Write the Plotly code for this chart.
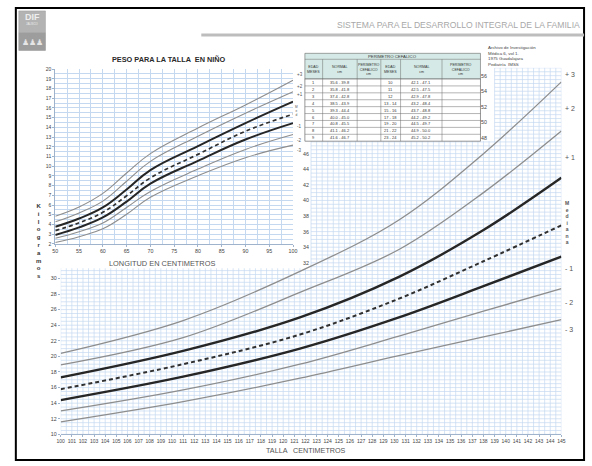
import plotly.graph_objects as go

W, H = 592, 466
def fx(x): return x / W
def fy(y): return 1 - y / H

# ---------------- data ----------------
# big chart: weight for height (100-145 cm)
talla_cm = [100, 111, 121.5, 130.4, 138, 145]
talla_p3 = [20.4, 24.6, 30.9, 37.5, 46.0, 55.2]
talla_p2 = [18.9, 22.4, 28.2, 33.7, 41.0, 48.9]
talla_p1 = [17.3, 20.7, 25.0, 30.2, 36.2, 42.9]
talla_med = [15.8, 19.0, 22.8, 27.4, 32.2, 36.8]
talla_m1 = [14.4, 17.4, 21.0, 25.0, 29.0, 32.8]
talla_m2 = [13.0, 15.7, 19.0, 22.6, 25.8, 28.7]
talla_m3 = [11.6, 14.2, 17.2, 20.1, 22.5, 24.7]

# small chart: weight for length (50-100 cm)
longitud_cm = [50, 55, 60, 65, 70, 80, 90, 100]
long_p3 = [4.85, 5.8, 7.2, 9.3, 11.3, 13.93, 16.31, 18.86]
long_p2 = [4.27, 5.19, 6.4, 8.45, 10.5, 13.09, 15.46, 17.67]
long_p1 = [3.76, 4.61, 5.75, 7.6, 9.6, 12.07, 14.44, 16.65]
long_med = [3.36, 4.17, 5.25, 6.95, 8.8, 11.22, 13.6, 15.36]
long_m1 = [2.92, 3.7, 4.72, 6.35, 8.2, 10.55, 12.75, 14.44]
long_m2 = [2.58, 3.25, 4.15, 5.75, 7.4, 9.7, 11.73, 13.26]
long_m3 = [2.14, 2.74, 3.55, 5.05, 6.8, 9.02, 10.88, 12.17]

talla_ticks = list(range(100, 146))
longitud_ticks = list(range(50, 101, 5))
kg_small_ticks = list(range(2, 21))
kg_big_left = list(range(10, 31, 2))
kg_big_mid = list(range(32, 47, 2))
kg_big_right = list(range(48, 57, 2))

# head circumference table
tabla_edad1 = ["1", "2", "3", "4", "5", "6", "7", "8", "9"]
tabla_normal1 = ["35.6 - 39.8", "35.8 - 41.8", "37.4 - 42.8", "38.5 - 43.9", "39.3 - 44.4",
                 "40.0 - 45.0", "40.8 - 45.5", "41.1 - 46.2", "41.6 - 46.7"]
tabla_edad2 = ["10", "11", "12", "13 - 14", "15 - 16", "17 - 18", "19 - 20", "21 - 22", "23 - 24"]
tabla_normal2 = ["42.1 - 47.1", "42.5 - 47.5", "42.9 - 47.8", "43.2 - 48.4", "43.7 - 48.8",
                 "44.2 - 49.2", "44.5 - 49.7", "44.9 - 50.0", "45.2 - 50.2"]
tabla_headers = ["EDAD<br>MESES", "NORMAL<br>cm", "PERIMETRO<br>CEFALICO<br>cm",
                 "EDAD<br>MESES", "NORMAL<br>cm", "PERIMETRO<br>CEFALICO<br>cm"]

FONT = "Arial, Liberation Sans, sans-serif"
GRID = "#c4d8f0"
GRAY = "#8e8e8e"
DARK = "#262626"

fig = go.Figure()

# ---------- big chart grid (only where visible) ----------
gx, gy = [], []
c = 100.0
while c <= 145.001:
    top = 31.3 if c < 122.5 else (47.6 if c < 139 else 57)
    gx += [c, c, None]
    gy += [10, top, None]
    c += 0.5
k = 10.0
while k <= 57.001:
    left = 100 if k <= 31.3 else (122.5 if k <= 47.6 else 139)
    gx += [left, 145, None]
    gy += [k, k, None]
    k += 0.5
fig.add_trace(go.Scatter(x=gx, y=gy, mode="lines", line=dict(color=GRID, width=0.7),
                         hoverinfo="skip", showlegend=False, xaxis="x", yaxis="y"))

def curve(x, y, kind, xa, ya, scale=1.0, sm=1.0):
    if kind == "thin":
        ln = dict(color=GRAY, width=1.3 * scale, shape="spline", smoothing=sm)
    elif kind == "thick":
        ln = dict(color=DARK, width=2.4 * scale, shape="spline", smoothing=sm)
    else:
        ln = dict(color="#303030", width=2.0 * scale, dash="4px,3px", shape="spline", smoothing=sm)
    fig.add_trace(go.Scatter(x=x, y=y, mode="lines", line=ln, showlegend=False,
                             xaxis=xa, yaxis=ya, hoverinfo="skip"))

for ys, kd in [(talla_p3, "thin"), (talla_p2, "thin"), (talla_p1, "thick"), (talla_med, "dash"),
               (talla_m1, "thick"), (talla_m2, "thin"), (talla_m3, "thin")]:
    curve(talla_cm, ys, kd, "x", "y", 1.0, 1.0)

for ys, kd in [(long_p3, "thin"), (long_p2, "thin"), (long_p1, "thick"), (long_med, "dash"),
               (long_m1, "thick"), (long_m2, "thin"), (long_m3, "thin")]:
    curve(longitud_cm, ys, kd, "x2", "y2", 0.85, 1.2)

fig.update_layout(
    width=W, height=H, autosize=False,
    margin=dict(l=0, r=0, t=0, b=0),
    paper_bgcolor="white", plot_bgcolor="white",
    font=dict(family=FONT, color="#333"),
    showlegend=False,
    xaxis=dict(domain=[fx(57.5), fx(565)], range=[100, 145], anchor="y",
               tickvals=talla_ticks, tickfont=dict(size=5, color="#444"),
               showgrid=False, zeroline=False, showline=True, linecolor="#9fb4cc",
               ticks="outside", ticklen=2, tickcolor="#9fb4cc", fixedrange=True),
    yaxis=dict(domain=[fy(437), fy(65.7)], range=[10, 57], anchor="x",
               tickvals=kg_big_left, tickfont=dict(size=5.3, color="#444"),
               showgrid=False, zeroline=False, showline=False,
               ticks="outside", ticklen=2, tickcolor="#9fb4cc", fixedrange=True),
    xaxis2=dict(domain=[fx(52), fx(293)], range=[50, 100], anchor="y2",
                tickvals=longitud_ticks, tickfont=dict(size=5.3, color="#444"),
                showgrid=True, gridcolor=GRID, gridwidth=0.8, zeroline=False,
                showline=True, linecolor="#9fb4cc", ticks="outside", ticklen=2,
                tickcolor="#9fb4cc",
                minor=dict(tick0=50, dtick=2.5, showgrid=True, gridcolor=GRID, gridwidth=0.7),
                fixedrange=True),
    yaxis2=dict(domain=[fy(244), fy(67)], range=[2, 20], anchor="x2",
                tickvals=kg_small_ticks, tickfont=dict(size=5, color="#444"),
                showgrid=True, gridcolor=GRID, gridwidth=0.8, zeroline=False,
                showline=True, linecolor="#9fb4cc", ticks="outside", ticklen=2,
                tickcolor="#9fb4cc",
                minor=dict(tick0=2, dtick=0.5, showgrid=True, gridcolor=GRID, gridwidth=0.6),
                fixedrange=True),
)

shapes = []
ann = []

def text(x, y, t, size, color="#333", xanchor="center", yanchor="middle", bold=False, align="center"):
    if bold:
        t = "<b>" + t + "</b>"
    ann.append(dict(x=fx(x), y=fy(y), xref="paper", yref="paper", text=t, showarrow=False,
                    font=dict(size=size, color=color, family=FONT),
                    xanchor=xanchor, yanchor=yanchor, align=align))

# outer frame
shapes.append(dict(type="rect", xref="paper", yref="paper", x0=fx(12), x1=fx(588), y0=fy(463), y1=fy(5),
                   line=dict(color="black", width=2), layer="above"))
# header line
shapes.append(dict(type="line", xref="paper", yref="paper", x0=fx(200), x1=fx(588), y0=fy(32.5), y1=fy(32.5),
                   line=dict(color="#bdbdbd", width=3)))
text(586, 22, "SISTEMA PARA EL DESARROLLO INTEGRAL DE LA FAMILIA", 8.6, "#a8a8a8", xanchor="right")

# logo
shapes.append(dict(type="rect", xref="paper", yref="paper", x0=fx(15), x1=fx(42), y0=fy(48), y1=fy(8),
                   fillcolor="#b3b3b3", line=dict(color="#9a9a9a", width=0.5)))
shapes.append(dict(type="rect", xref="paper", yref="paper", x0=fx(15), x1=fx(42), y0=fy(48), y1=fy(30),
                   fillcolor="#9d9d9d", line=dict(width=0)))
text(28.5, 14.5, "DIF", 9, "#eeeeee", bold=True)
text(28.5, 21.5, "JALISCO", 2.8, "#f0f0f0")
text(28.5, 40, "♟♟♟", 8, "#e6e6e6")

# small chart title and axis title
text(167, 57, "PESO PARA LA TALLA  EN NIÑO", 7.3, "#2a2a2a", bold=True)
text(160, 264, "LONGITUD EN CENTIMETROS", 7.4, "#555")
text(35, 241, "<br>".join("Kilogramos"), 6, "#333", bold=True)

# small chart right labels
for lab, yy in [("+3", 72), ("+2", 84.5), ("+1", 93), ("-1", 125), ("-2", 139.5), ("-3", 149)]:
    text(295, yy, lab, 4.5, "#555", xanchor="left")
text(297, 109, "<br>".join("Med"), 3.2, "#555")

# big chart titles/labels
text(306, 453, "TALLA   CENTIMETROS", 7.2, "#555")
for kk in kg_big_mid:
    ann.append(dict(x=fx(311), y=kk, xref="paper", yref="y", text=str(kk), showarrow=False,
                    font=dict(size=5.3, color="#444", family=FONT), xanchor="right", yanchor="middle"))
for kk in kg_big_right:
    ann.append(dict(x=fx(492), y=kk, xref="paper", yref="y", text=str(kk), showarrow=False,
                    font=dict(size=5.3, color="#444", family=FONT), xanchor="right", yanchor="middle"))
for lab, yy in [("+ 3", 72), ("+ 2", 107), ("+ 1", 157), ("- 1", 269), ("- 2", 303), ("- 3", 331)]:
    text(567, yy, lab, 7, "#555", xanchor="left")
text(571, 222, "<br>".join("Mediana"), 5, "#555", bold=True)

# reference note
text(489, 54, "Archivo de Investigación<br>Médica 6, vol 1.<br>1975 Guadalajara<br>Pediatría  IMSS",
     4.4, "#444", xanchor="left", align="left")

# ---------- table ----------
cols = [305, 323, 358, 382, 402, 444, 483]
TEAL = "#d5eae6"
BORDER = "#6a6a6a"
shapes.append(dict(type="rect", xref="paper", yref="paper", x0=fx(cols[0]), x1=fx(cols[-1]),
                   y0=fy(77), y1=fy(51), fillcolor=TEAL, line=dict(color=BORDER, width=0.6)))
shapes.append(dict(type="line", xref="paper", yref="paper", x0=fx(cols[0]), x1=fx(cols[-1]),
                   y0=fy(57), y1=fy(57), line=dict(color=BORDER, width=0.5)))
text((cols[0] + cols[-1]) / 2, 54, "PERIMETRO CEFALICO", 4.3, "#333")
row_top = 77
row_h = 7
n = len(tabla_edad1)
shapes.append(dict(type="rect", xref="paper", yref="paper", x0=fx(cols[0]), x1=fx(cols[-1]),
                   y0=fy(row_top + n * row_h), y1=fy(row_top), fillcolor="white",
                   line=dict(color=BORDER, width=0.7)))
for i in range(1, n):
    yy = row_top + i * row_h
    shapes.append(dict(type="line", xref="paper", yref="paper", x0=fx(cols[0]), x1=fx(cols[-1]),
                       y0=fy(yy), y1=fy(yy), line=dict(color=BORDER, width=0.5)))
for cx in cols[1:-1]:
    shapes.append(dict(type="line", xref="paper", yref="paper", x0=fx(cx), x1=fx(cx),
                       y0=fy(row_top + n * row_h), y1=fy(57), line=dict(color=BORDER, width=0.5)))
for j, hd in enumerate(tabla_headers):
    text((cols[j] + cols[j + 1]) / 2, 67, hd, 3.6, "#333")
for i in range(n):
    yc = row_top + (i + 0.5) * row_h
    for j, val in enumerate([tabla_edad1[i], tabla_normal1[i], "", tabla_edad2[i], tabla_normal2[i], ""]):
        if val:
            text((cols[j] + cols[j + 1]) / 2, yc, val, 4, "#333")

fig.update_layout(shapes=shapes, annotations=ann)

fig.write_html("out.html", config={"displayModeBar": False},
               post_script="document.body.style.margin='0';document.body.style.overflow='hidden';")
